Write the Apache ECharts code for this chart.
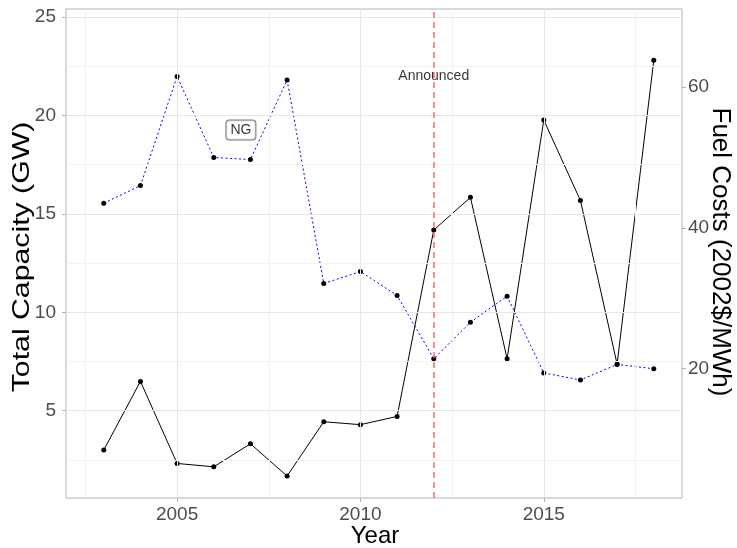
<!DOCTYPE html>
<html>
<head>
<meta charset="utf-8">
<style>
  html, body { margin: 0; padding: 0; background: #fff; }
  #chart { width: 737px; height: 548px; }
</style>
<script src="https://cdn.jsdelivr.net/npm/echarts@6/dist/echarts.min.js"></script>
</head>
<body>
<div id="chart"></div>
<script>
// donnees
const years = [2003, 2004, 2005, 2006, 2007, 2008, 2009, 2010, 2011, 2012, 2013, 2014, 2015, 2016, 2017, 2018];
const capacityGW = [3.00, 6.49, 2.32, 2.15, 3.32, 1.68, 4.44, 4.29, 4.71, 14.18, 15.84, 7.64, 19.77, 15.68, 7.37, 22.80];
const fuelCost = [43.5, 46.0, 61.5, 50.0, 49.7, 61.0, 32.1, 33.8, 30.4, 21.4, 26.6, 30.3, 19.4, 18.4, 20.6, 20.0];

// graduations
const xTicks = [2005, 2010, 2015];
const xMinor = [2002.5, 2007.5, 2012.5, 2017.5];
const capTicks = [5, 10, 15, 20, 25];
const capMinor = [2.5, 7.5, 12.5, 17.5, 22.5];
const fuelTicks = [20, 40, 60];

// bornes des axes (expansion ggplot)
const xRange = [2001.97, 2018.77];
const capRange = [0.565, 25.41];
const fuelRange = [1.64, 71.08];

// annotations
const announceYear = 2012;
const announceLabel = [2012, 22.02, 'Announced'];
const ngLabel = [2006.74, 19.26, 'NG'];

const chart = echarts.init(document.getElementById('chart'), null, { renderer: 'canvas' });

const FONT = '"Liberation Sans", Arial, sans-serif';

const gridLines = []
  .concat(xTicks.map(v => ({ xAxis: v, lineStyle: { color: '#e6e6e6', width: 1, type: 'solid' } })))
  .concat(xMinor.map(v => ({ xAxis: v, lineStyle: { color: '#f2f2f2', width: 1, type: 'solid' } })))
  .concat(capTicks.map(v => ({ yAxis: v, lineStyle: { color: '#e6e6e6', width: 1, type: 'solid' } })))
  .concat(capMinor.map(v => ({ yAxis: v, lineStyle: { color: '#f2f2f2', width: 1, type: 'solid' } })));

const option = {
  animation: false,
  grid: {
    left: 66, right: 55, top: 9, bottom: 50,
    show: true, borderColor: '#b3b3b3', borderWidth: 1,
    containLabel: false, outerBoundsMode: 'none'
  },
  xAxis: {
    type: 'value', min: xRange[0], max: xRange[1],
    axisLine: { show: false },
    splitLine: { show: false },
    axisTick: { show: true, customValues: xTicks, length: 4, lineStyle: { color: '#b3b3b3' } },
    axisLabel: { customValues: xTicks, formatter: v => String(v), margin: 7, color: '#4d4d4d', fontSize: 19, fontFamily: FONT }
  },
  yAxis: [
    {
      type: 'value', min: capRange[0], max: capRange[1],
      axisLine: { show: false },
      splitLine: { show: false },
      axisTick: { show: true, customValues: capTicks, length: 4, lineStyle: { color: '#b3b3b3' } },
      axisLabel: { customValues: capTicks, formatter: v => String(v), margin: 10, color: '#4d4d4d', fontSize: 19, fontFamily: FONT }
    },
    {
      type: 'value', position: 'right', min: fuelRange[0], max: fuelRange[1],
      axisLine: { show: false },
      splitLine: { show: false },
      axisTick: { show: true, customValues: fuelTicks, length: 4, lineStyle: { color: '#b3b3b3' } },
      axisLabel: { customValues: fuelTicks, formatter: v => String(v), margin: 6, color: '#4d4d4d', fontSize: 19, fontFamily: FONT }
    }
  ],
  series: [
    {
      // grille
      type: 'line', data: [], z: 1, silent: true,
      markLine: { silent: true, symbol: ['none', 'none'], label: { show: false }, data: gridLines }
    },
    {
      // ligne verticale rouge
      type: 'line', data: [], z: 2, silent: true,
      markLine: {
        silent: true, symbol: ['none', 'none'], label: { show: false },
        data: [{ xAxis: announceYear, lineStyle: { color: '#ff6b6b', width: 1.5, type: [6, 4] } }]
      }
    },
    {
      name: 'Fuel Costs', type: 'line', yAxisIndex: 1, z: 3,
      data: years.map((y, i) => [y, fuelCost[i]]),
      lineStyle: { color: '#0000ff', width: 1, type: [2, 2.5] },
      symbol: 'circle', symbolSize: 5,
      itemStyle: { color: '#000' }
    },
    {
      name: 'Total Capacity', type: 'line', yAxisIndex: 0, z: 4,
      data: years.map((y, i) => [y, capacityGW[i]]),
      lineStyle: { color: '#000', width: 1 },
      symbol: 'circle', symbolSize: 5,
      itemStyle: { color: '#000' }
    },
    {
      // etiquettes
      type: 'scatter', yAxisIndex: 0, z: 5, symbolSize: 0, silent: true,
      data: [
        {
          value: announceLabel,
          label: { show: true, position: 'inside', formatter: p => p.value[2], color: '#000', fontSize: 14, fontFamily: FONT }
        },
        {
          value: ngLabel,
          label: {
            show: true, position: 'inside', formatter: p => p.value[2], color: '#000', fontSize: 14, fontFamily: FONT,
            backgroundColor: '#fff', borderColor: '#555', borderWidth: 1, borderRadius: 3, padding: [3, 4, 2, 4]
          }
        }
      ]
    }
  ],
  graphic: [
    {
      type: 'text', x: 375, y: 536, silent: true,
      style: { text: 'Year', fill: '#000', font: '24px ' + FONT, align: 'center', verticalAlign: 'middle' }
    },
    {
      type: 'text', x: 22, y: 257, rotation: Math.PI / 2, scaleX: 1.26, silent: true,
      style: { text: 'Total Capacity (GW)', fill: '#000', font: '24px ' + FONT, align: 'center', verticalAlign: 'middle' }
    },
    {
      type: 'text', x: 720, y: 252, rotation: -Math.PI / 2, silent: true,
      style: { text: 'Fuel Costs (2002$/MWh)', fill: '#000', font: '26px ' + FONT, align: 'center', verticalAlign: 'middle' }
    }
  ]
};

chart.setOption(option);
</script>
</body>
</html>
